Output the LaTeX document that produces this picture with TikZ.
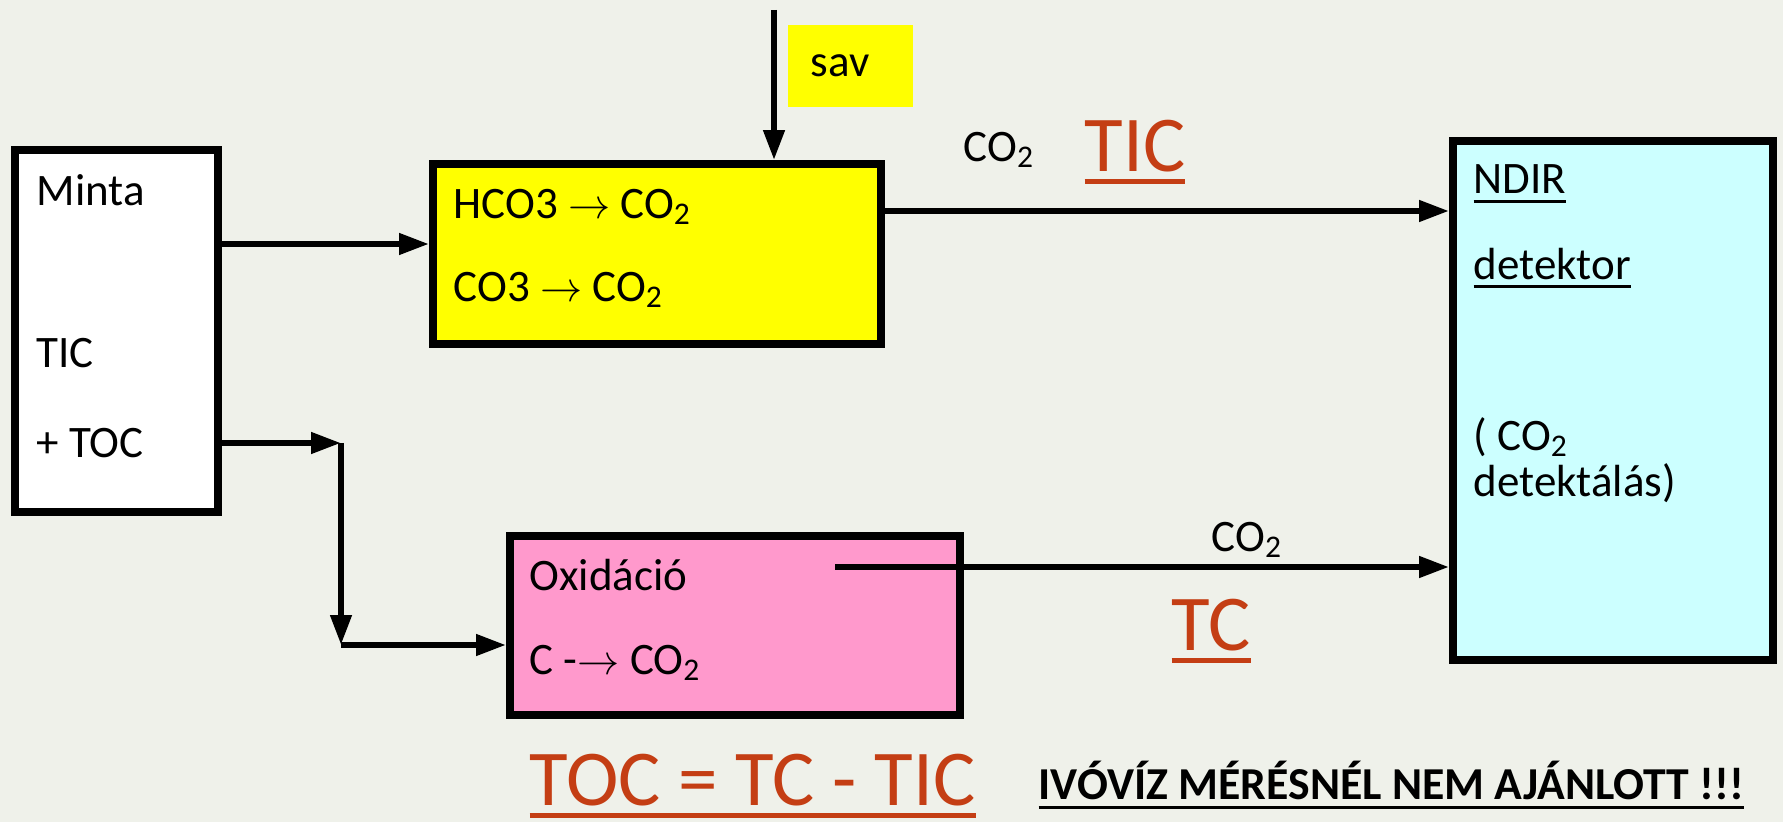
\documentclass[tikz,border=0pt]{standalone}
\usepackage{fontspec}
\setmainfont{Carlito}
\usetikzlibrary{arrows.meta}

\definecolor{bgc}{RGB}{239,241,234}
\definecolor{acidc}{RGB}{255,255,0}
\definecolor{oxc}{RGB}{255,153,204}
\definecolor{detc}{RGB}{204,255,255}
\definecolor{redc}{RGB}{196,62,20}

\newsavebox{\ulbox}
\newcommand{\ulrule}[3]{\sbox{\ulbox}{#3}\usebox{\ulbox}\llap{\rule[-#1]{\wd\ulbox}{#2}}}
\newcommand{\redul}[1]{\ulrule{3.4pt}{1.3pt}{#1}}
\newcommand{\bodyul}[1]{\ulrule{2.6pt}{0.8pt}{#1}}

\begin{document}
\begin{tikzpicture}[
		x=0.01cm, y=-0.01cm,
		>={Triangle[length=8.5pt,width=5.8pt]},
		box/.style  = {rectangle, draw=black, line width=2.2pt, inner sep=0pt},
		lbl/.style  = {anchor=west, inner sep=0pt, font=\fontsize{12.8}{15}\selectfont},
		big/.style  = {anchor=west, inner sep=0pt, text=redc, font=\fontsize{22.5}{27}\selectfont},
		warn/.style = {anchor=west, inner sep=0pt, font=\bfseries\fontsize{13}{16}\selectfont},
		arr/.style  = {->, line width=1.7pt}
		]
		
		\fill[bgc] (0,0) rectangle (1783,822);
		\useasboundingbox (0,0) rectangle (1783,822);
		
		% === === Nodes === ===
		\node[box, fill=white,	minimum width=2.03cm, minimum height=3.62cm]	(minta)	at	(116.5,331)	{};
		\node[box, fill=acidc,	minimum width=4.48cm, minimum height=1.80cm]	(acid)	at	(657,254)	{};
		\node[rectangle, fill=acidc, minimum width=1.25cm, minimum height=0.82cm]	(sav)	at	(850.5,66)	{};
		\node[box, fill=oxc,	minimum width=4.50cm, minimum height=1.79cm]	(oxid)	at	(735,625.5)	{};
		\node[box, fill=detc,	minimum width=3.20cm, minimum height=5.19cm]	(ndir)	at	(1613,400.5)	{};
		
		\coordinate	(y-in)		at	(0,244);
		\coordinate	(y-tic)		at	(0,211);
		\coordinate	(y-toc)		at	(0,443);
		\coordinate	(y-tc)		at	(0,567);
		\coordinate	(y-ox)		at	(0,645);
		\coordinate	(sav-top)	at	(774,10);
		\coordinate	(split)		at	(341,443);
		\coordinate	(ox-out)	at	(835,567);
		
		% === === Texts === ===
		\node[lbl]	(t-minta)	at	(36,190)	{Minta};
		\node[lbl]	(t-tic)		at	(36,353)	{TIC};
		\node[lbl]	(t-toc)		at	(36,443)	{+ TOC};
		\node[lbl]	(t-hco3)	at	(453,207)	{HCO3 $\rightarrow$ CO\textsubscript{2}};
		\node[lbl]	(t-co3)		at	(453,290)	{CO3 $\rightarrow$ CO\textsubscript{2}};
		\node[lbl]	(t-sav)		at	(810,66)	{sav};
		\node[lbl]	(t-ox)		at	(529,575)	{Oxidáció};
		\node[lbl]	(t-c)		at	(529,663)	{C -$\rightarrow$ CO\textsubscript{2}};
		\node[lbl]	(t-co2a)	at	(963,150)	{CO\textsubscript{2}};
		\node[lbl]	(t-co2c)	at	(1211,540)	{CO\textsubscript{2}};
		\node[lbl]	(t-ndir)	at	(1473,184)	{\bodyul{NDIR}};
		\node[lbl]	(t-det)		at	(1473,268)	{\bodyul{detektor}};
		\node[lbl]	(t-co2b)	at	(1473,437)	{( CO\textsubscript{2}};
		\node[lbl]	(t-detl)	at	(1473,483)	{detektálás)};
		
		\node[big]	(t-ticred)	at	(1084,152)	{\redul{TIC}};
		\node[big]	(t-tc)		at	(1171,631)	{\redul{TC}};
		\node[big]	(t-eq)		at	(529,786)	{\redul{TOC = TC - TIC}};
		\node[warn]	(t-warn)	at	(1038,785)	{\bodyul{IVÓVÍZ MÉRÉSNÉL NEM AJÁNLOTT !!!}};
		
		% === === Lines === ===
		\draw[arr]	(minta.east |- y-in)	--	(acid.west |- y-in);
		\draw[arr]	(sav-top)				--	(sav-top |- acid.north);
		\draw[arr]	(acid.east |- y-tic)	--	(ndir.west |- y-tic);
		\draw[arr]	(minta.east |- y-toc)	--	(split);
		\draw[arr]	(split)					--	(split |- y-ox);
		\draw[arr]	(split |- y-ox)			--	(oxid.west |- y-ox);
		\draw[arr]	(ox-out)				--	(ndir.west |- y-tc);
		
	\end{tikzpicture}
\end{document}
